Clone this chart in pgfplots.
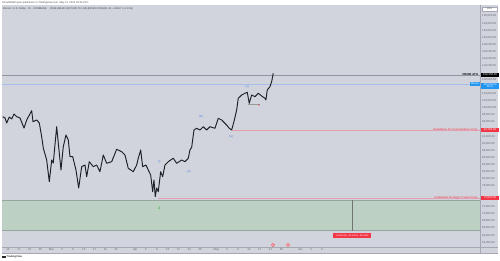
\documentclass[border=0pt]{standalone}
\usepackage{fontspec}
\setmainfont{Liberation Sans}
\usepackage{pgfplots}
\pgfplotsset{compat=1.18}
\usetikzlibrary{backgrounds}
\definecolor{panebg}{RGB}{209,212,220}
\definecolor{greenbox}{RGB}{188,208,195}
\definecolor{greenedge}{RGB}{150,165,158}
\definecolor{candle}{RGB}{30,32,38}
\definecolor{athgray}{RGB}{145,148,158}
\definecolor{pricelineblue}{RGB}{165,190,235}
\definecolor{tvblue}{RGB}{33,150,243}
\definecolor{tvred}{RGB}{242,54,69}
\definecolor{invred}{RGB}{228,160,172}
\definecolor{ticktxt}{RGB}{95,99,110}
\definecolor{wavelbl}{RGB}{70,120,240}
\definecolor{wavegreen}{RGB}{76,175,80}
\definecolor{sep}{RGB}{165,168,178}
\newcommand{\fs}[1]{\fontsize{#1}{#1}\selectfont}
\begin{document}
\begin{tikzpicture}[x=1pt,y=1pt]
\begin{axis}[name=ax, anchor=south west, scale only axis,
  width=478pt, height=242pt,
  xmin=-18.21, xmax=158.4, ymin=60674, ymax=129160,
  axis line style={draw=none}, major tick length=0pt,
  scaled y ticks=false,
  ytick={62000,64000,66000,68000,70000,72000,78000,80000,82000,84000,86000,88000,90000,92000,96000,98000,100000,102000,104000,108000,112000,114000,116000,118000,120000,122000,124000,126000},
  yticklabel pos=right,
  yticklabel style={anchor=west, xshift=2pt, inner sep=0pt, font=\fs{2.8}, text=ticktxt,
    /pgf/number format/.cd, fixed, fixed zerofill, precision=2, 1000 sep={,}, assume math mode=true},
  xtick={-16,-12,-8,-4,0,4,8,12,16,20,24,31,35,39,43,47,51,55,61,65,69,73,77,81,85,92,96,100},
  xticklabels={13,17,21,25,Mar,5,9,13,17,21,25,Apr,5,9,13,17,21,25,May,5,9,13,17,21,25,Jun,5,9},
  xticklabel style={anchor=center, yshift=-3pt, inner sep=0pt, font=\fs{2.8}, text=ticktxt},
]
% green zone
\addplot[fill=greenbox, draw=none] coordinates {(-18.21,73975) (158.4,73975) (158.4,65287) (-18.21,65287)};
\addplot[greenedge, line width=0.4pt] coordinates {(-18.21,73975) (158.4,73975)};
\addplot[greenedge, line width=0.4pt] coordinates {(-18.21,65287) (158.4,65287)};
\addplot[black!55, line width=0.5pt] coordinates {(111.08,73975) (111.08,65287)};
% horizontal levels
\addplot[athgray, line width=0.5pt] coordinates {(-18.21,109356) (158.4,109356)};
\addplot[pricelineblue, line width=0.35pt] coordinates {(-18.21,106803) (158.4,106803)};
\addplot[invred, line width=0.5pt] coordinates {(66.64,93785) (158.4,93785)};
\addplot[invred, line width=0.5pt] coordinates {(39.5,74500) (158.4,74500)};
\addplot[black!40, line width=0.3pt] coordinates {(72.8,101200) (77.2,101200)};
% price
\addplot[candle, line width=0.95pt, line join=round] coordinates {
(-17.95,97549) (-17.10,97181) (-16.48,95766) (-15.52,97464) (-14.63,96898) (-13.78,98313)
(-12.78,97549) (-11.56,97181) (-10.08,94351) (-9.09,96615) (-7.24,99247) (-6.76,96134)
(-5.39,96615) (-4.43,95766) (-3.55,91889) (-2.96,88691) (-1.70,85295) (-0.74,79154)
(0.15,85295) (0.74,84446) (1.99,94719) (2.59,90106) (3.58,82465) (4.43,89059)
(5.43,92370) (6.28,90955) (6.91,86229) (7.91,86229) (9.12,82465) (10.12,77371)
(11.23,83399) (12.45,83880) (13.08,80569) (14.04,84814) (15.52,83399) (16.77,83880)
(17.99,81984) (19.21,86710) (20.47,84361) (22.31,84814) (24.16,88324) (26.01,87645)
(27.23,86710) (28.44,82946) (30.29,81984) (31.55,83880) (32.14,85776) (33.03,88125)
(33.76,83399) (34.98,83880) (35.83,82465) (36.72,81050) (37.46,76324) (37.94,79635)
(38.42,74909) (38.94,77371) (39.53,76324) (40.41,81984) (41.15,80569) (42.00,83880)
(43.22,84814) (44.11,85295) (45.07,85776) (46.32,84361) (48.17,85295) (49.39,84814)
(50.61,85776) (51.24,88125) (51.87,88889) (52.72,93785) (53.71,94264) (54.93,93785)
(56.15,94719) (57.41,93785) (58.63,94719) (60.47,94264) (61.69,97096) (62.95,96615)
(64.79,95200) (65.76,94264) (66.64,93785) (67.49,96134) (68.49,99445) (69.08,102756)
(70.34,103690) (71.56,104171) (72.40,104454) (73.14,101341) (74.03,103690) (75.25,103209)
(76.47,104171) (77.72,103407) (78.94,102756) (79.31,102275) (79.79,105105) (80.79,106041)
(81.42,107456) (82.01,109831)};
% event icons
\addplot[only marks, mark=*, mark size=1.5pt, mark options={fill=white, draw=tvred, line width=0.5pt}] coordinates {(81.9,61240) (87.45,61240)};
% wave labels
\node[font=\fs{2.8}, text=wavelbl, inner sep=0] at (axis cs:39.9,84814) {(i)};
\node[font=\fs{2.8}, text=wavelbl, inner sep=0] at (axis cs:50.87,81984) {(ii)};
\node[font=\fs{2.8}, text=wavelbl, inner sep=0] at (axis cs:55.30,97549) {(iii)};
\node[font=\fs{2.8}, text=wavelbl, inner sep=0] at (axis cs:66.38,91889) {(iv)};
\node[font=\fs{2.8}, text=wavelbl, inner sep=0] at (axis cs:72.40,106100) {(v)};
\node[font=\bfseries\fs{3}, text=tvred, inner sep=0] at (axis cs:76.84,100577) {x};
\node[font=\bfseries\fs{3.6}, text=wavegreen, inner sep=0] at (axis cs:39.97,71711) {2};
\node[font=\fs{2.4}, fill=tvred, text=white, inner xsep=2pt, inner ysep=0.9pt] at (axis cs:111.08,63928) {−9,216.00 (−12.44\%) −921,600};
\end{axis}
\begin{scope}[shift={(ax.south west)}, xshift=-2pt, yshift=-14pt]
\begin{scope}[on background layer]
\fill[white] (0,0) rectangle (500,261);
\fill[panebg] (2,8) rectangle (498,256);
\draw[sep, line width=0.4pt] (480,8) -- (480,256);
\draw[sep, line width=0.4pt] (2,14) -- (498,14);
\draw[sep, line width=0.3pt] (2,8) -- (498,8);
\end{scope}
\node[anchor=west, inner sep=0, font=\fs{2.6}, text=black!70] at (2,258.5) {SmartWebCrypto published on TradingView.com, May 21, 2025 18:34 UTC};
\node[anchor=west, inner sep=0, font=\fs{2.6}, text=black!75] at (3,252.3) {Bitcoin / U.S. Dollar · 1h · COINBASE \quad O106,968.80 H107,085.70 L106,830.99 C106,831.13 −136.67 (−0.13\%)};
\node[fill=white, draw=sep, line width=0.2pt, font=\fs{2.6}, text=ticktxt, inner sep=0.6pt, minimum width=15pt, minimum height=3.8pt] at (489.5,252) {USD};
\node[anchor=east, inner sep=0, font=\bfseries\fs{2.8}, text=black] at (478,186) {PRIOR ATH};
\node[fill=black, text=white, font=\fs{2.8}, inner sep=0, minimum width=18pt, minimum height=4.8pt] at (490,186) {109,356.00};
\node[fill=tvblue, text=white, font=\fs{2.6}, inner xsep=1pt, inner ysep=0, minimum height=3.6pt, anchor=east] at (480,177) {Bitcoin};
\node[fill=tvblue, text=white, font=\fs{2.6}, inner sep=0, minimum width=18pt, minimum height=6.6pt, align=center] at (490,175) {106,803.00\\[-0.4pt]25:21};
\node[anchor=east, inner sep=0, font=\fs{2.8}, text=tvred] at (478,131) {Invalidation for local impulsive move};
\node[fill=tvred, text=white, font=\fs{2.8}, inner sep=0, minimum width=18pt, minimum height=4.8pt] at (490,131) {93,785.00};
\node[anchor=east, inner sep=0, font=\fs{2.8}, text=tvred] at (478,63) {Invalidation for larger 5 wave move};
\node[fill=tvred, text=white, font=\fs{2.8}, inner sep=0, minimum width=18pt, minimum height=4.8pt] at (490,63) {74,500.00};
\fill[black!85] (2,3) rectangle (5.5,5.2);
\node[anchor=west, inner sep=0, font=\bfseries\fs{2.6}, text=black!80] at (6.5,4) {TradingView};
\pgfresetboundingbox
\path[use as bounding box] (0,0) rectangle (500,261);
\end{scope}
\end{tikzpicture}
\end{document}
